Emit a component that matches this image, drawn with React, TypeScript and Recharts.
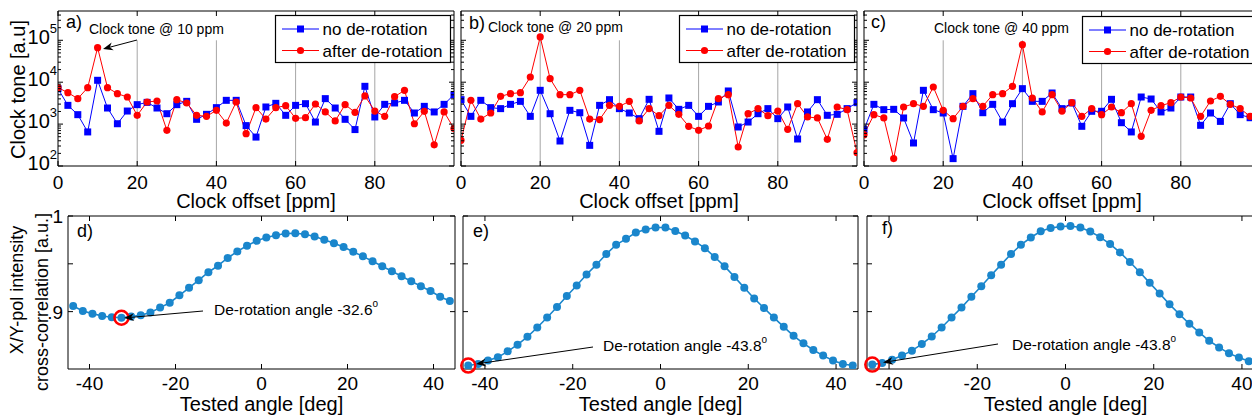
import React from "react";
import { LineChart, Line, XAxis, YAxis, ReferenceLine, ReferenceDot, Legend } from "recharts";

const FONT = '"Liberation Sans", Arial, Helvetica, sans-serif';
const BLUE = "#0000ff";
const RED = "#ff0000";
const CURVE = "#1a86cc";
const GRID = "#a6a6a6";

// clock offset axis [ppm], panels a-c
const ppmOffsets = [0, 2.5, 5, 7.5, 10, 12.5, 15, 17.5, 20, 22.5, 25, 27.5, 30, 32.5, 35, 37.5, 40, 42.5, 45, 47.5, 50, 52.5, 55, 57.5, 60, 62.5, 65, 67.5, 70, 72.5, 75, 77.5, 80, 82.5, 85, 87.5, 90, 92.5, 95, 97.5, 100];

const toneNoDerotA = [7000, 2800, 1680, 650, 11100, 2420, 1020, 2050, 2910, 3300, 2420, 1770, 2910, 3490, 1300, 1710, 2470, 3690, 3690, 920, 490, 2560, 3130, 1620, 2800, 3070, 1120, 4050, 2420, 1300, 740, 7970, 1480, 2960, 3190, 3690, 1840, 2650, 1950, 2960, 5040];
const toneDerotA = [7410, 5630, 4050, 7410, 66700, 7410, 5330, 4430, 1620, 3370, 3560, 710, 3830, 3190, 1620, 1530, 2130, 1060, 3370, 590, 2470, 1320, 2470, 2750, 1370, 1420, 3020, 1950, 1190, 2910, 1910, 4690, 2050, 1530, 4510, 6400, 1020, 2020, 320, 1950, 780];

const toneNoDerotB = [3830, 1530, 3690, 2470, 2340, 2960, 3490, 1530, 6400, 1770, 395, 2130, 1870, 311, 2800, 3830, 2340, 1840, 1350, 3900, 672, 4200, 2250, 2800, 1530, 2650, 3370, 6170, 853, 1120, 1770, 2340, 1350, 2560, 441, 1950, 3830, 1620, 1710, 2340, 3250];
const toneDerotB = [410, 3690, 1320, 1840, 4600, 5330, 5630, 13300, 120000, 12100, 5040, 5040, 6400, 1320, 1280, 2800, 2650, 3490, 1190, 2340, 1590, 2800, 1710, 885, 710, 900, 4050, 5040, 284, 1770, 2340, 1590, 2050, 750, 3070, 1480, 1400, 433, 2560, 2210, 208];

const toneNoDerotC = [736, 2960, 2210, 2250, 1400, 354, 6400, 2210, 1840, 150, 2650, 5330, 1870, 2960, 1120, 3070, 7010, 3490, 3490, 5520, 2340, 3190, 885, 2020, 2020, 3900, 1080, 650, 4430, 3970, 1950, 2420, 4430, 4430, 935, 1840, 1160, 3070, 1680, 1420, 1770];
const toneDerotC = [560, 1680, 1400, 150, 2560, 3070, 2650, 7680, 2130, 1350, 2650, 4050, 2650, 5040, 5330, 7970, 78700, 4200, 1950, 5040, 2050, 3250, 1530, 2340, 1680, 2560, 1870, 3070, 511, 2130, 2750, 3250, 4430, 4200, 1530, 3560, 4600, 2960, 2340, 1530, 2130];

const ppmTicks = [0, 20, 40, 60, 80];
const ppmGrid = [20, 40, 60, 80];
const toneMajor = [100, 1000, 10000, 100000];
const toneTicks = [100, 200, 300, 400, 500, 600, 700, 800, 900, 1000, 2000, 3000, 4000, 5000, 6000, 7000, 8000, 9000, 10000, 20000, 30000, 40000, 50000, 60000, 70000, 80000, 90000, 100000, 200000, 300000, 400000];
const toneLabels = ["a)", "b)", "c)"];
const clockTones = ["10", "20", "40"];
const seriesOrder = ["blue", "red"];

// tested rotation angle [deg], panels d-f
const testedAngles = [-43.8, -41.55, -39.31, -37.06, -34.82, -32.57, -30.32, -28.08, -25.83, -23.58, -21.34, -19.09, -16.85, -14.6, -12.35, -10.11, -7.86, -5.62, -3.37, -1.12, 1.12, 3.37, 5.62, 7.86, 10.11, 12.35, 14.6, 16.85, 19.09, 21.34, 23.58, 25.83, 28.08, 30.32, 32.57, 34.82, 37.06, 39.31, 41.55, 43.8];

const xcorrD = [0.9059, 0.9007, 0.8979, 0.8955, 0.8942, 0.8936, 0.8948, 0.8962, 0.899, 0.9042, 0.9093, 0.917, 0.9249, 0.9329, 0.9412, 0.9481, 0.9561, 0.963, 0.9689, 0.974, 0.9775, 0.9799, 0.9817, 0.982, 0.981, 0.9785, 0.9751, 0.9716, 0.9675, 0.9626, 0.9578, 0.9526, 0.9474, 0.9422, 0.937, 0.9318, 0.9266, 0.9215, 0.9156, 0.9111];
const xcorrE = [0.8436, 0.8453, 0.8488, 0.8522, 0.8585, 0.8654, 0.8737, 0.8834, 0.8938, 0.9048, 0.9163, 0.9273, 0.9388, 0.9491, 0.9602, 0.9699, 0.9761, 0.9827, 0.9858, 0.9879, 0.9879, 0.9844, 0.9796, 0.9734, 0.9664, 0.9571, 0.9474, 0.9363, 0.9249, 0.9138, 0.9038, 0.8938, 0.8841, 0.8747, 0.8668, 0.8599, 0.854, 0.8488, 0.8453, 0.8436];
const xcorrF = [0.8446, 0.8464, 0.8498, 0.854, 0.8592, 0.8661, 0.874, 0.8834, 0.8938, 0.9042, 0.9156, 0.9266, 0.9381, 0.9491, 0.9602, 0.9699, 0.9775, 0.9841, 0.9875, 0.9889, 0.9896, 0.9879, 0.9837, 0.9779, 0.9706, 0.9619, 0.9519, 0.9412, 0.9301, 0.919, 0.9076, 0.8972, 0.8872, 0.8782, 0.8695, 0.8626, 0.8564, 0.8519, 0.8481, 0.846];

const angleTicks = [-40, -20, 0, 20, 40];
const xcorrTicks = [0.9, 0.95, 1];
const xcorrTickText: Record<string, string> = { "0.9": ".9", "1": "1" };
const derotIndex = [5, 0, 0];
const derotText = ["-32.6", "-43.8", "-43.8"];
const angleLabels = ["d)", "e)", "f)"];

// layout (px in the 1252x418 page)
const TOP_Y0 = 11;
const TOP_Y1 = 166;
const BOT_Y0 = 216;
const BOT_Y1 = 369;
const ML = 60;
const MR = 12;
const MT = 10;
const MB = 32;
const AX = 1; // axis band thickness, kept tiny so recharts still draws it

const topPanels = [
  { x0: 58, x1: 454, blue: toneNoDerotA, red: toneDerotA, labels: true, legendX: 275, legendY: 15 },
  { x0: 461, x1: 857, blue: toneNoDerotB, red: toneDerotB, labels: false, legendX: 679, legendY: 15 },
  { x0: 864, x1: 1260, blue: toneNoDerotC, red: toneDerotC, labels: false, legendX: 1082, legendY: 16 },
];
const botPanels = [
  { x0: 68, x1: 455, vals: xcorrD, labels: true },
  { x0: 463, x1: 858, vals: xcorrE, labels: false },
  { x0: 867, x1: 1264, vals: xcorrF, labels: false },
];

const chartMargin = { top: MT - AX, right: MR - AX, bottom: MB - AX, left: ML - AX };

type Side = "left" | "right" | "top" | "bottom";

function makeTick(side: Side, edge: number, isMajor: (v: number) => boolean, label?: (v: number, pos: number) => React.ReactNode) {
  return (props: any) => {
    const v = props.payload.value;
    const len = isMajor(v) ? 5 : 3;
    if (side === "left" || side === "right") {
      const y = props.y;
      const d = side === "left" ? 1 : -1;
      return (
        <g>
          <line x1={edge} x2={edge + d * len} y1={y} y2={y} stroke="#000" strokeWidth={1} />
          {label ? label(v, y) : null}
        </g>
      );
    }
    const x = props.x;
    const d = side === "top" ? 1 : -1;
    return (
      <g>
        <line x1={x} x2={x} y1={edge} y2={edge + d * len} stroke="#000" strokeWidth={1} />
        {label ? label(v, x) : null}
      </g>
    );
  };
}

function ToneLegend(props: any) {
  const items = [...(props.payload || [])].sort(
    (p: any, q: any) => seriesOrder.indexOf(p.dataKey) - seriesOrder.indexOf(q.dataKey)
  );
  const rows = [14, 35.5];
  return (
    <svg width={176} height={48} style={{ display: "block", overflow: "visible", fontFamily: FONT }}>
      <rect x={0.5} y={0.5} width={175} height={47} fill="#fff" stroke="#000" strokeWidth={1.2} />
      {items.map((it: any, i: number) => (
        <g key={it.value}>
          <line x1={7} x2={44} y1={rows[i]} y2={rows[i]} stroke={it.color} strokeWidth={1} />
          {it.dataKey === "blue" ? (
            <rect x={22} y={rows[i] - 3.5} width={7} height={7} fill={it.color} />
          ) : (
            <circle cx={25.5} cy={rows[i]} r={3.6} fill={it.color} />
          )}
          <text x={47.5} y={rows[i] + 6} fontSize={17} fill="#000">{it.value}</text>
        </g>
      ))}
    </svg>
  );
}

function BlueSquare(p: any) {
  if (p.cx == null || p.cy == null) return <g key={p.key} />;
  return <rect key={p.key} x={p.cx - 3.5} y={p.cy - 3.5} width={7} height={7} fill={BLUE} />;
}

function TonePanel({ x0, x1, blue, red, labels, legendX, legendY }: any) {
  const w = x1 - x0;
  const h = TOP_Y1 - TOP_Y0;
  const left = x0 - ML;
  const top = TOP_Y0 - MT;
  const rows = ppmOffsets.map((x, i) => ({ x, blue: blue[i], red: red[i] }));
  const isMajor = (v: number) => toneMajor.includes(v);
  const yLabel = (v: number, y: number) =>
    labels && isMajor(v) ? (
      <text x={ML - 1} y={y + 4} textAnchor="end" fontSize={20} fill="#000">
        10<tspan fontSize={13} dy={-11}>{Math.round(Math.log10(v))}</tspan>
      </text>
    ) : null;
  const xLabel = (v: number, x: number) => (
    <text x={x} y={MT + h + 22.5} textAnchor="middle" fontSize={19} fill="#000">{v}</text>
  );
  return (
    <div style={{ position: "absolute", left, top }}>
      <LineChart width={w + ML + MR} height={h + MT + MB} data={rows} margin={chartMargin} style={{ fontFamily: FONT }}>
        <XAxis dataKey="x" type="number" domain={[0, 100]} allowDataOverflow ticks={ppmTicks} interval={0} height={AX} axisLine={{ stroke: "#000" }} tickLine={false} tick={makeTick("bottom", MT + h, () => true, xLabel)} />
        <XAxis xAxisId="top" dataKey="x" orientation="top" type="number" domain={[0, 100]} allowDataOverflow ticks={ppmTicks} interval={0} height={AX} axisLine={{ stroke: "#000" }} tickLine={false} tick={makeTick("top", MT, () => true)} />
        <YAxis scale="log" type="number" domain={[100, 500000]} allowDataOverflow ticks={toneTicks} interval={0} width={AX} axisLine={{ stroke: "#000" }} tickLine={false} tick={makeTick("left", ML, isMajor, yLabel)} />
        <YAxis yAxisId="r" orientation="right" scale="log" type="number" domain={[100, 500000]} allowDataOverflow ticks={toneTicks} interval={0} width={AX} axisLine={{ stroke: "#000" }} tickLine={false} tick={makeTick("right", ML + w, isMajor)} />
        {ppmGrid.map((g) => (
          <ReferenceLine key={g} segment={[{ x: g, y: 100 }, { x: g, y: 100000 }]} stroke={GRID} strokeWidth={1} />
        ))}
        <Line name="no de-rotation" dataKey="blue" stroke={BLUE} strokeWidth={1} dot={BlueSquare} isAnimationActive={false} />
        <Line name="after de-rotation" dataKey="red" stroke={RED} strokeWidth={1} dot={{ r: 3.6, fill: RED, strokeWidth: 0 }} isAnimationActive={false} />
        <Legend layout="vertical" align="center" verticalAlign="middle" width={176} height={48} wrapperStyle={{ left: legendX - left, top: legendY - top, width: 176, height: 48 }} content={ToneLegend} />
      </LineChart>
    </div>
  );
}

function AnglePanel({ x0, x1, vals, labels, idx }: any) {
  const w = x1 - x0;
  const h = BOT_Y1 - BOT_Y0;
  const rows = testedAngles.map((a, i) => ({ a, v: vals[i] }));
  const isMajor = () => true;
  const yLabel = (v: number, y: number) =>
    labels && xcorrTickText[String(v)] ? (
      <text x={ML - 5} y={y + 7} textAnchor="end" fontSize={19} fill="#000">{xcorrTickText[String(v)]}</text>
    ) : null;
  const xLabel = (v: number, x: number) => (
    <text x={x} y={MT + h + 21} textAnchor="middle" fontSize={19} fill="#000">{v}</text>
  );
  return (
    <div style={{ position: "absolute", left: x0 - ML, top: BOT_Y0 - MT }}>
      <LineChart width={w + ML + MR} height={h + MT + MB} data={rows} margin={chartMargin} style={{ fontFamily: FONT }}>
        <XAxis dataKey="a" type="number" domain={[-45, 45]} allowDataOverflow ticks={angleTicks} interval={0} height={AX} axisLine={{ stroke: "#000" }} tickLine={false} tick={makeTick("bottom", MT + h, isMajor, xLabel)} />
        <XAxis xAxisId="top" dataKey="a" orientation="top" type="number" domain={[-45, 45]} allowDataOverflow ticks={angleTicks} interval={0} height={AX} axisLine={{ stroke: "#000" }} tickLine={false} tick={makeTick("top", MT, isMajor)} />
        <YAxis type="number" domain={[0.84, 1]} allowDataOverflow ticks={xcorrTicks} interval={0} width={AX} axisLine={{ stroke: "#000" }} tickLine={false} tick={makeTick("left", ML, isMajor, yLabel)} />
        <YAxis yAxisId="r" orientation="right" type="number" domain={[0.84, 1]} allowDataOverflow ticks={xcorrTicks} interval={0} width={AX} axisLine={{ stroke: "#000" }} tickLine={false} tick={makeTick("right", ML + w, isMajor)} />
        <Line dataKey="v" stroke={CURVE} strokeWidth={1.6} dot={{ r: 4, fill: CURVE, strokeWidth: 0 }} isAnimationActive={false} />
        <ReferenceDot x={testedAngles[idx]} y={vals[idx]} r={7} fill="none" stroke={RED} strokeWidth={2.5} />
      </LineChart>
    </div>
  );
}

function Arrow({ x1, y1, x2, y2 }: { x1: number; y1: number; x2: number; y2: number }) {
  const L = Math.hypot(x2 - x1, y2 - y1);
  const ux = (x2 - x1) / L;
  const uy = (y2 - y1) / L;
  const hl = 10;
  const hw = 4;
  const bx = x2 - ux * hl;
  const by = y2 - uy * hl;
  const nx = x2 - ux * hl * 0.7;
  const ny = y2 - uy * hl * 0.7;
  const pts = `${x2},${y2} ${bx - uy * hw},${by + ux * hw} ${nx},${ny} ${bx + uy * hw},${by - ux * hw}`;
  return (
    <g>
      <line x1={x1} y1={y1} x2={nx} y2={ny} stroke="#000" strokeWidth={1} />
      <polygon points={pts} fill="#000" />
    </g>
  );
}

function Overlay() {
  const tonePos = [
    { x: 89, y: 33.5 },
    { x: 488, y: 31.5 },
    { x: 934, y: 32.5 },
  ];
  const letterTop = [
    { x: 66, y: 28 },
    { x: 469, y: 29 },
    { x: 871, y: 28 },
  ];
  const letterBot = [
    { x: 77, y: 237 },
    { x: 473, y: 237 },
    { x: 882, y: 234 },
  ];
  const derotPos = [
    { x: 214, y: 315, ax: 203, ay: 311, bx: 124, by: 318 },
    { x: 603, y: 351, ax: 593, ay: 347, bx: 476, by: 364 },
    { x: 1012, y: 350, ax: 998, ay: 344, bx: 883, by: 362.5 },
  ];
  return (
    <svg width={1252} height={418} style={{ position: "absolute", left: 0, top: 0, fontFamily: FONT, pointerEvents: "none" }}>
      <text transform="translate(25,89.5) rotate(-90)" textAnchor="middle" fontSize={20}>Clock tone [a.u]</text>
      <text transform="translate(23,290) rotate(-90)" textAnchor="middle" fontSize={18}>X/Y-pol intensity</text>
      <text transform="translate(48,302) rotate(-90)" textAnchor="middle" fontSize={18}>cross-correlation [a.u.]</text>
      {topPanels.map((p, i) => (
        <text key={"cx" + i} x={(p.x0 + p.x1) / 2} y={208} textAnchor="middle" fontSize={20}>Clock offset [ppm]</text>
      ))}
      {botPanels.map((p, i) => (
        <text key={"ta" + i} x={(p.x0 + p.x1) / 2} y={411} textAnchor="middle" fontSize={20}>Tested angle [deg]</text>
      ))}
      {toneLabels.map((l, i) => (
        <text key={l} x={letterTop[i].x} y={letterTop[i].y} fontSize={18}>{l}</text>
      ))}
      {angleLabels.map((l, i) => (
        <text key={l} x={letterBot[i].x} y={letterBot[i].y} fontSize={18}>{l}</text>
      ))}
      {clockTones.map((t, i) => (
        <text key={"ct" + i} x={tonePos[i].x} y={tonePos[i].y} fontSize={14}>{`Clock tone @ ${t} ppm`}</text>
      ))}
      <Arrow x1={137} y1={40} x2={103} y2={49} />
      {derotText.map((t, i) => (
        <g key={"dr" + i}>
          <text x={derotPos[i].x} y={derotPos[i].y} fontSize={15.5}>
            {`De-rotation angle ${t}`}
            <tspan fontSize={10} dy={-8}>o</tspan>
          </text>
          <Arrow x1={derotPos[i].ax} y1={derotPos[i].ay} x2={derotPos[i].bx} y2={derotPos[i].by} />
        </g>
      ))}
    </svg>
  );
}

export default function App() {
  return (
    <div style={{ position: "absolute", left: 0, top: 0, width: 1252, height: 418, overflow: "hidden", background: "#fff" }}>
      {topPanels.map((p, i) => (
        <TonePanel key={"t" + i} {...p} />
      ))}
      {botPanels.map((p, i) => (
        <AnglePanel key={"b" + i} {...p} idx={derotIndex[i]} />
      ))}
      <Overlay />
    </div>
  );
}
